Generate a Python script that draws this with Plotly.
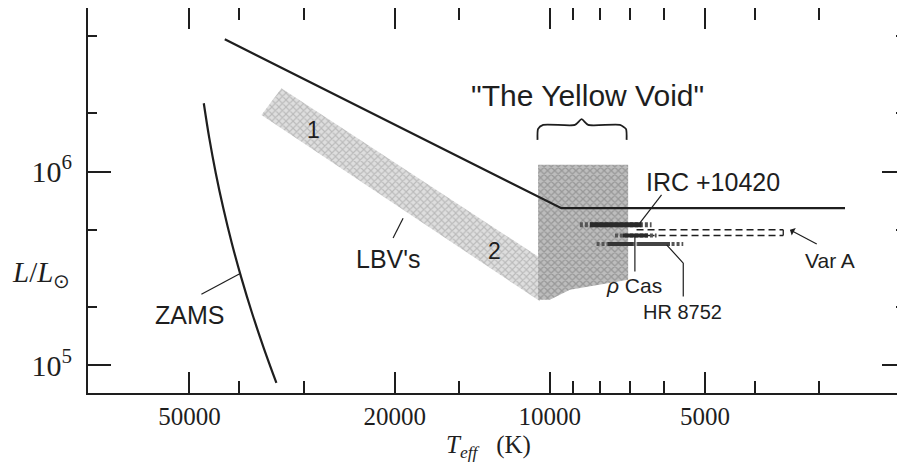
import numpy as np
import plotly.graph_objects as go

# ---------------- data (Teff in K, L in Lsun) ----------------
hd_T = [42700, 9500, 2677]
hd_L = [4.81e6, 6.47e5, 6.47e5]

zams_T = [46900, 45760, 44450, 42990, 41380, 39640, 37810, 35880, 33910]
zams_L = [2.252e6, 1.487e6, 9.81e5, 6.48e5, 4.27e5, 2.82e5, 1.863e5, 1.229e5, 8.12e4]

lbv_T = [33160, 10550, 10450, 36250, 33160]
lbv_L = [2.69e6, 3.65e5, 2.14e5, 1.96e6, 2.69e6]

void_T = [10540, 7050, 7050, 8000, 9143, 10000, 10540, 10540]
void_L = [1.083e6, 1.083e6, 2.77e5, 2.61e5, 2.46e5, 2.18e5, 2.18e5, 1.083e6]

brace_T = [10566, 10540, 10304, 8942, 8679, 8427, 7316, 7120, 7099]
brace_L = [1.457e6, 1.66e6, 1.741e6, 1.741e6, 1.863e6, 1.741e6, 1.741e6, 1.66e6, 1.457e6]

# star tracks: full extent and solid core(s)
irc_T = [8746, 6350];  irc_core_T = [8364, 6640];  irc_L = 5.31e5
rho_T = [7478, 6209];  rho_core_T = [7216, 6455];  rho_L = 4.68e5
hr_T = [8118, 5512];   hr_core1_T = [7716, 6903];  hr_core2_T = [6750, 5850];  hr_L = 4.23e5
vara_T = [6791, 3527]; vara_L = [5.01e5, 4.68e5]

# leader lines
irc_lead_T = [6689, 6073];  irc_lead_L = [5.44e5, 7.58e5]
rho_lead_T = [6841, 6841];  rho_lead_L = [4.61e5, 3.05e5]
hr_lead_T = [5937, 5512, 5512];  hr_lead_L = [4.19e5, 3.37e5, 2.27e5]
zams_lead_T = [47400, 39940];  zams_lead_L = [2.33e5, 2.97e5]
lbv_lead_T = [20140, 19260];  lbv_lead_L = [4.54e5, 5.75e5]
vara_arrow_head = (3423, 5.01e5)
vara_arrow_tail = (3017, 4.19e5)

# labels: (text, T, L, size)
labels = [
    ("ZAMS", 49940, 1.83e5, 25),
    ("LBV's", 20590, 3.56e5, 25),
    ("1", 28700, 1.64e6, 23),
    ("2", 12788, 3.87e5, 23),
    ("\"The Yellow Void\"", 8460, 2.46e6, 30),
    ("IRC +10420", 4830, 8.88e5, 25),
    ("<i>ρ</i> Cas", 6871, 2.58e5, 21),
    ("HR 8752", 5520, 1.89e5, 20),
    ("Var A", 2858, 3.46e5, 21),
]

x_major = [50000, 20000, 10000, 5000]
x_major_text = ["50000", "20000", "10000", "5000"]
x_minor = [40000, 30000, 15000, 9000, 8000, 7000, 6000, 4000, 3000]
y_major = [1e5, 1e6]
y_major_text = ["10<sup>5</sup>", "10<sup>6</sup>"]
y_minor = [2e5, 5e5, 2e6, 5e6]

INK = "#1e1e1e"
SANS = "Liberation Sans, Arial, sans-serif"
SERIF = "Liberation Serif, Times New Roman, serif"

fig = go.Figure()

# shaded regions
fig.add_trace(go.Scatter(
    x=lbv_T, y=lbv_L, mode="lines", fill="toself",
    line=dict(width=0, color="rgba(0,0,0,0)"),
    fillcolor="#d6d6d6",
    fillpattern=dict(shape="x", size=5, solidity=0.4, fgcolor="#959595", bgcolor="#dedede"),
    hoverinfo="skip", showlegend=False))
fig.add_trace(go.Scatter(
    x=void_T, y=void_L, mode="lines", fill="toself",
    line=dict(width=0, color="rgba(0,0,0,0)"),
    fillcolor="#b0b0b0",
    fillpattern=dict(shape="x", size=5, solidity=0.45, fgcolor="#747474", bgcolor="#bdbdbd"),
    hoverinfo="skip", showlegend=False))

# HD limit and ZAMS
fig.add_trace(go.Scatter(x=hd_T, y=hd_L, mode="lines",
                         line=dict(color=INK, width=2.2), hoverinfo="skip", showlegend=False))
fig.add_trace(go.Scatter(x=zams_T, y=zams_L, mode="lines", line_shape="spline",
                         line=dict(color=INK, width=2.2, smoothing=1.0),
                         hoverinfo="skip", showlegend=False))

# brace
fig.add_trace(go.Scatter(x=brace_T, y=brace_L, mode="lines", line_shape="spline",
                         line=dict(color=INK, width=1.8, smoothing=0.6),
                         hoverinfo="skip", showlegend=False))

# star tracks
def seg(T, L, width, color, dash="solid"):
    fig.add_trace(go.Scatter(x=T, y=[L, L], mode="lines",
                             line=dict(color=color, width=width, dash=dash),
                             hoverinfo="skip", showlegend=False))

# Var A dashed box
seg(vara_T, vara_L[0], 1.3, INK, "7px,4px")
seg(vara_T, vara_L[1], 1.3, INK, "7px,4px")
fig.add_trace(go.Scatter(x=[vara_T[1], vara_T[1]], y=vara_L, mode="lines",
                         line=dict(color=INK, width=1.3), hoverinfo="skip", showlegend=False))

seg(irc_T, irc_L, 5, "#555555", "3px,2px")
seg(irc_core_T, irc_L, 5, "#2a2a2a")
seg(rho_T, rho_L, 4, "#555555", "3px,2px")
seg(rho_core_T, rho_L, 4, "#2a2a2a")
seg(hr_T, hr_L, 4, "#555555", "3px,2px")
seg(hr_core1_T, hr_L, 4, "#333333")
seg(hr_core2_T, hr_L, 4, "#444444")

# leader lines
for T, L in [(irc_lead_T, irc_lead_L), (rho_lead_T, rho_lead_L), (hr_lead_T, hr_lead_L),
             (zams_lead_T, zams_lead_L), (lbv_lead_T, lbv_lead_L)]:
    fig.add_trace(go.Scatter(x=T, y=L, mode="lines", line=dict(color=INK, width=1.2),
                             hoverinfo="skip", showlegend=False))

# labels
for text, T, L, size in labels:
    fig.add_annotation(x=np.log10(T), y=np.log10(L), xref="x", yref="y", text=text,
                       showarrow=False, font=dict(family=SANS, size=size, color=INK),
                       xanchor="center", yanchor="middle")

# Var A arrow
fig.add_annotation(x=np.log10(vara_arrow_head[0]), y=np.log10(vara_arrow_head[1]),
                   ax=np.log10(vara_arrow_tail[0]), ay=np.log10(vara_arrow_tail[1]),
                   xref="x", yref="y", axref="x", ayref="y", text="", showarrow=True,
                   arrowhead=1, arrowsize=1.2, arrowwidth=1.2, arrowcolor=INK)

# axis titles
fig.add_annotation(x=0.4908, y=-0.139, xref="paper", yref="paper",
                   text="<i>T</i><sub><i>eff</i></sub>   (K)", showarrow=False,
                   font=dict(family=SERIF, size=25, color=INK), xanchor="center", yanchor="middle")
fig.add_annotation(x=-0.057, y=0.31, xref="paper", yref="paper",
                   text="<i>L</i>/<i>L</i><sub>⊙</sub>", showarrow=False,
                   font=dict(family=SERIF, size=29, color=INK), xanchor="center", yanchor="middle")

# the page body adds an 8px offset, so the figure is 8px smaller and margins are shifted
fig.update_layout(
    width=897, height=457,
    margin=dict(l=80, r=0, t=0, b=72, autoexpand=False),
    paper_bgcolor="white", plot_bgcolor="white",
    showlegend=False,
    xaxis=dict(type="log", range=[4.8957, 3.3113], showgrid=False, zeroline=False,
               automargin=False,
               showline=True, linewidth=2, linecolor=INK, mirror="ticks",
               ticks="inside", ticklen=21, tickwidth=2, tickcolor=INK,
               tickmode="array", tickvals=x_major, ticktext=x_major_text,
               tickfont=dict(family=SERIF, size=25, color=INK), ticklabelstandoff=0,
               minor=dict(ticks="inside", ticklen=12, tickwidth=2, tickcolor=INK,
                          tickmode="array", tickvals=x_minor, showgrid=False)),
    yaxis=dict(type="log", range=[4.8577, 6.8438], showgrid=False, zeroline=False,
               automargin=False,
               showline=True, linewidth=2, linecolor=INK, mirror="ticks",
               ticks="inside", ticklen=23, tickwidth=2, tickcolor=INK,
               tickmode="array", tickvals=y_major, ticktext=y_major_text,
               tickfont=dict(family=SERIF, size=30, color=INK), ticklabelstandoff=8,
               minor=dict(ticks="inside", ticklen=9, tickwidth=2, tickcolor=INK,
                          tickmode="array", tickvals=y_minor, showgrid=False)),
)

fig.write_html("out.html")
